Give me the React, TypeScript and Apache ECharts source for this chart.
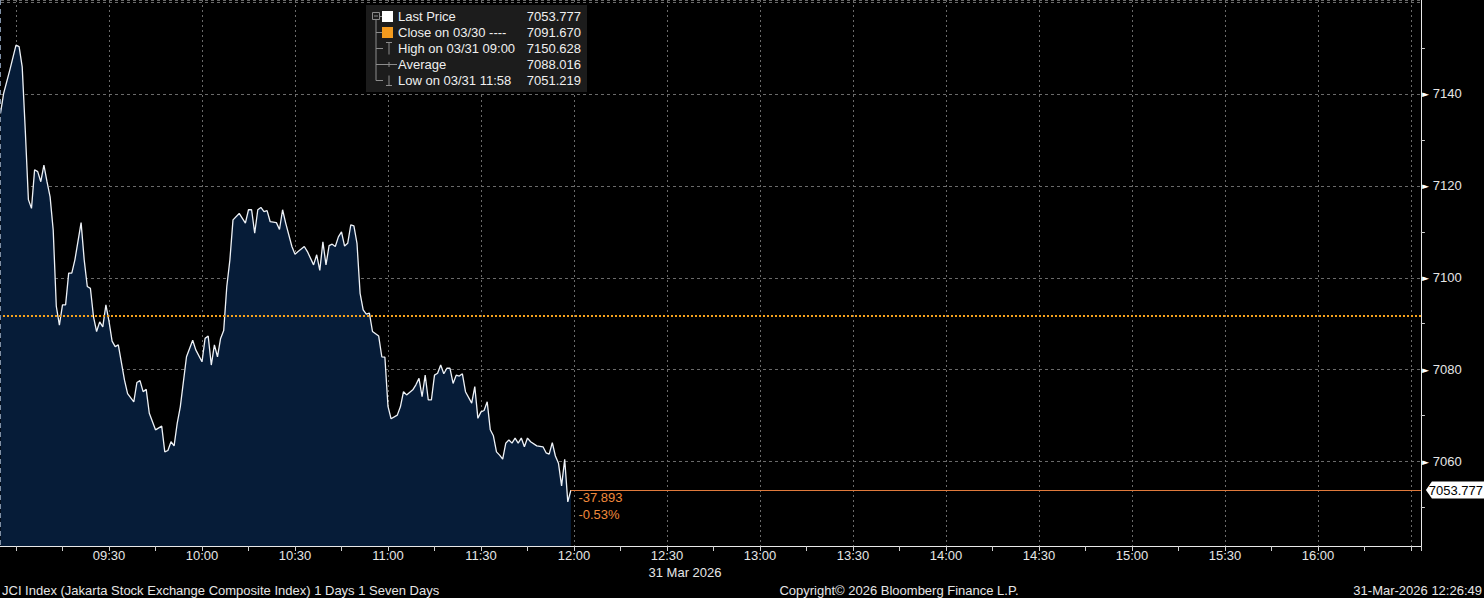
import React, { useEffect, useRef } from 'react';
import * as echarts from 'echarts';

// minutes after 09:00 (Jakarta) for each price print
const times = [
  -5, -4, -2, 0, 1, 2, 3, 4, 5, 6,
  7, 8, 9, 10, 11, 12, 13, 14, 15, 16,
  17, 18, 19, 21, 22, 23, 24, 25, 26, 27,
  28, 29, 30, 31, 32, 33, 35, 36, 38, 39,
  40, 41, 42, 43, 45, 47, 48, 49, 50, 51,
  52, 53, 55, 57, 58, 60, 61, 62, 63, 64,
  65, 66, 67, 68, 69, 70, 72, 74, 75, 76,
  77, 78, 79, 80, 81, 82, 84, 85, 86, 87,
  89, 90, 91, 93, 94, 96, 97, 98, 99, 100,
  101, 102, 103, 104, 105, 106, 107, 108, 109, 110,
  111, 112, 113, 114, 115, 117, 118, 119, 120, 121,
  123, 124, 125, 126, 128, 129, 130, 131, 132, 133,
  134, 135, 136, 137, 138, 139, 140, 141, 142, 143,
  144, 145, 147, 148, 149, 150, 151, 152, 153, 154,
  155, 156, 157, 158, 159, 160, 161, 162, 163, 164,
  165, 166, 168, 170, 171, 172, 173, 174, 175, 176,
  177, 178, 179,
];

const prices = [
  7135.8, 7140.1, 7145.2, 7150.628, 7150.3, 7145.9, 7132.0, 7117.0, 7115.1, 7123.5,
  7123.1, 7120.9, 7124.5, 7120.9, 7117.6, 7110.4, 7093.8, 7089.7, 7094.1, 7094.1,
  7101.0, 7101.0, 7103.9, 7112.0, 7103.9, 7098.1, 7097.7, 7091.5, 7088.3, 7090.4,
  7089.3, 7094.1, 7090.5, 7086.2, 7085.0, 7085.4, 7077.7, 7074.8, 7073.0, 7077.2,
  7077.6, 7075.2, 7075.7, 7070.5, 7066.9, 7067.7, 7062.1, 7062.4, 7064.3, 7063.4,
  7068.3, 7071.9, 7082.8, 7086.4, 7084.3, 7081.7, 7086.8, 7087.3, 7081.0, 7085.4,
  7082.8, 7086.8, 7088.5, 7098.1, 7103.9, 7112.6, 7114.0, 7111.9, 7114.8, 7114.8,
  7109.7, 7114.8, 7115.3, 7114.4, 7114.6, 7112.2, 7112.0, 7110.5, 7114.8, 7111.9,
  7106.8, 7105.1, 7105.7, 7106.8, 7105.7, 7102.8, 7105.0, 7101.6, 7107.8, 7102.8,
  7107.0, 7107.3, 7106.8, 7108.9, 7110.0, 7106.9, 7107.5, 7111.5, 7111.3, 7107.5,
  7096.6, 7093.0, 7092.1, 7092.3, 7088.3, 7087.3, 7082.8, 7082.7, 7072.0, 7069.3,
  7070.1, 7071.9, 7075.2, 7074.5, 7075.6, 7076.7, 7078.1, 7074.1, 7078.8, 7073.4,
  7073.4, 7078.8, 7079.2, 7081.0, 7079.1, 7080.3, 7080.3, 7077.0, 7078.8, 7078.6,
  7079.1, 7075.2, 7072.7, 7076.3, 7069.4, 7070.8, 7071.1, 7073.0, 7066.9, 7065.6,
  7062.1, 7061.4, 7060.5, 7064.0, 7064.7, 7064.0, 7065.1, 7064.0, 7065.1, 7063.2,
  7065.1, 7064.3, 7063.4, 7063.2, 7061.9, 7061.6, 7064.1, 7061.2, 7059.6, 7054.7,
  7060.5, 7051.219, 7053.777,
];

const prevClose = 7091.67;
const lastPrice = 7053.777;
const highPrice = 7150.628;
const avgPrice = 7088.016;
const lowPrice = 7051.219;

const legendLabels = ['Last Price', 'Close on 03/30 ----', 'High on 03/31 09:00', 'Average', 'Low on 03/31 11:58'];
const legendValues = [lastPrice, prevClose, highPrice, avgPrice, lowPrice];

const footerLeft = 'JCI Index (Jakarta Stock Exchange Composite Index) 1 Days 1 Seven Days';
const footerMid = 'Copyright\u00A9 2026 Bloomberg Finance L.P.';
const footerRight = '31-Mar-2026 12:26:49';
const dateLabel = '31 Mar 2026';

const X_MIN = -30;
const X_MAX = 453.2;
const LAST_LABEL_T = 420;
const Y_MIN = 7041.61;
const Y_MAX = 7160.46;
const Y_TOP_LABEL = 7140;

const FONT = '"Liberation Sans", Arial, sans-serif';

const hhmm = (m: number) => {
  const total = 9 * 60 + m;
  const h = Math.floor(total / 60);
  const mm = Math.round(total - h * 60);
  return `${String(h).padStart(2, '0')}:${String(mm).padStart(2, '0')}`;
};

export default function App() {
  const ref = useRef<HTMLDivElement>(null);

  useEffect(() => {
    document.body.style.margin = '0';
    document.body.style.background = '#000';
    if (!ref.current) return;
    const chart = echarts.init(ref.current, undefined, { renderer: 'svg' });

    const lastT = times[times.length - 1];
    const change = lastPrice - prevClose;
    const pct = (change / prevClose) * 100;
    const changeText = `${change.toFixed(3)}\n${pct.toFixed(2)}%`;

    const rowsY = [16.5, 32.5, 48.5, 64.5, 80.5];
    const gray = '#8c8c8c';
    const graphics: any[] = [
      { type: 'line', z: 50, shape: { x1: 0.5, y1: 0, x2: 0.5, y2: 546 }, style: { stroke: '#7f90a6', lineWidth: 1, lineDash: [5, 4] } },
      { type: 'rect', z: 50, shape: { x: 366, y: 5, width: 221, height: 87 }, style: { fill: '#1c1c1c' } },
      { type: 'rect', z: 51, shape: { x: 372.5, y: 12.5, width: 7, height: 7 }, style: { fill: 'none', stroke: gray, lineWidth: 1 } },
      { type: 'line', z: 51, shape: { x1: 374, y1: 16, x2: 378, y2: 16 }, style: { stroke: gray, lineWidth: 1 } },
      { type: 'line', z: 51, shape: { x1: 379.5, y1: 16.5, x2: 382, y2: 16.5 }, style: { stroke: gray, lineWidth: 1 } },
      { type: 'line', z: 51, shape: { x1: 376, y1: 19.5, x2: 376, y2: 80.5 }, style: { stroke: gray, lineWidth: 1 } },
      { type: 'line', z: 51, shape: { x1: 376, y1: 32.5, x2: 382, y2: 32.5 }, style: { stroke: gray, lineWidth: 1 } },
      { type: 'line', z: 51, shape: { x1: 376, y1: 48.5, x2: 383, y2: 48.5 }, style: { stroke: gray, lineWidth: 1 } },
      { type: 'line', z: 51, shape: { x1: 389, y1: 42.5, x2: 389, y2: 54.5 }, style: { stroke: gray, lineWidth: 1 } },
      { type: 'line', z: 51, shape: { x1: 386, y1: 42.5, x2: 392, y2: 42.5 }, style: { stroke: gray, lineWidth: 1 } },
      { type: 'line', z: 51, shape: { x1: 376, y1: 64.5, x2: 397, y2: 64.5 }, style: { stroke: gray, lineWidth: 1 } },
      { type: 'line', z: 51, shape: { x1: 389, y1: 62, x2: 389, y2: 67 }, style: { stroke: gray, lineWidth: 1 } },
      { type: 'line', z: 51, shape: { x1: 376, y1: 80.5, x2: 383, y2: 80.5 }, style: { stroke: gray, lineWidth: 1 } },
      { type: 'line', z: 51, shape: { x1: 389, y1: 75.5, x2: 389, y2: 85.5 }, style: { stroke: gray, lineWidth: 1 } },
      { type: 'line', z: 51, shape: { x1: 386, y1: 85.5, x2: 392, y2: 85.5 }, style: { stroke: gray, lineWidth: 1 } },
      { type: 'rect', z: 51, shape: { x: 382, y: 11, width: 11, height: 11 }, style: { fill: '#ffffff' } },
      { type: 'rect', z: 51, shape: { x: 382, y: 27, width: 11, height: 11 }, style: { fill: '#f39a1e' } },
    ];
    legendLabels.forEach((lab, i) => {
      graphics.push({
        type: 'text', z: 52,
        style: { text: lab, x: 398, y: rowsY[i], fill: '#efefef', font: `13px ${FONT}`, textAlign: 'left', textVerticalAlign: 'middle' },
      });
      graphics.push({
        type: 'text', z: 52,
        style: { text: legendValues[i].toFixed(3), x: 581, y: rowsY[i], fill: '#efefef', font: `13px ${FONT}`, textAlign: 'right', textVerticalAlign: 'middle' },
      });
    });
    graphics.push(
      { type: 'text', z: 52, style: { text: dateLabel, x: 685, y: 572, fill: '#e6e6e6', font: `13px ${FONT}`, textAlign: 'center', textVerticalAlign: 'middle' } },
      { type: 'text', z: 52, style: { text: footerLeft, x: 2, y: 590, fill: '#e6e6e6', font: `13px ${FONT}`, textAlign: 'left', textVerticalAlign: 'middle' } },
      { type: 'text', z: 52, style: { text: footerMid, x: 899, y: 590, fill: '#e6e6e6', font: `13px ${FONT}`, textAlign: 'center', textVerticalAlign: 'middle' } },
      { type: 'text', z: 52, style: { text: footerRight, x: 1482, y: 590, fill: '#e6e6e6', font: `13px ${FONT}`, textAlign: 'right', textVerticalAlign: 'middle' } },
    );

    const isMajorY = (v: number) => Math.abs(v - Math.round(v / 20) * 20) < 1e-6;

    const option: any = {
      animation: false,
      backgroundColor: '#000',
      textStyle: { fontFamily: FONT },
      grid: { left: -77, right: 63.1, top: 0, bottom: 52, containLabel: false, outerBoundsMode: 'none' },
      xAxis: {
        type: 'value',
        min: X_MIN,
        max: X_MAX,
        interval: 30,
        axisLine: { show: true, onZero: false, lineStyle: { color: '#e8e8e8', width: 1 } },
        axisTick: { show: true, length: 5, lineStyle: { color: '#cfcfcf' } },
        minorTick: { show: true, splitNumber: 2, length: 5, lineStyle: { color: '#cfcfcf' } },
        axisLabel: {
          color: '#e6e6e6',
          fontSize: 13,
          fontFamily: FONT,
          margin: 3,
          formatter: (v: number) => (v > 0 && v <= LAST_LABEL_T && Math.abs(v % 30) < 1e-6 ? hhmm(v) : ''),
        },
        splitLine: { show: true, lineStyle: { color: '#6a6a6a', type: [2, 3], width: 1 } },
        minorSplitLine: { show: false },
      },
      yAxis: {
        type: 'value',
        position: 'right',
        min: Y_MIN,
        max: Y_MAX,
        splitNumber: 6,
        axisLine: { show: true, onZero: false, lineStyle: { color: '#e8e8e8', width: 1 } },
        axisTick: { show: false },
        minorTick: { show: true, splitNumber: 2, length: 4, lineStyle: { color: '#cfcfcf' } },
        axisLabel: {
          margin: 1,
          formatter: (v: number) => {
            if (!isMajorY(v) || v > Y_TOP_LABEL) return '';
            return `{t|\u25BA}{v|${Math.round(v)}}`;
          },
          rich: {
            t: { color: '#ffffff', fontSize: 9, fontFamily: '"DejaVu Sans", sans-serif' },
            v: { color: '#e6e6e6', fontSize: 13, fontFamily: FONT, padding: [0, 0, 0, 4] },
          },
        },
        splitLine: { show: true, lineStyle: { color: '#6a6a6a', type: [3, 3], width: 1 } },
      },
      series: [
        {
          type: 'line',
          data: times.map((t, i) => [t, prices[i]]),
          symbol: 'none',
          showSymbol: false,
          lineStyle: { color: '#eef2f7', width: 1.3 },
          areaStyle: { color: '#061c38', opacity: 1, origin: 'start' },
          z: 3,
          markLine: {
            silent: true,
            symbol: ['none', 'none'],
            label: { show: false },
            data: [
              { yAxis: prevClose, lineStyle: { color: '#f5a21b', type: [2, 2], width: 2 } },
              [
                { coord: [lastT, lastPrice], lineStyle: { color: '#e07a3c', width: 1, type: 'solid' } },
                { coord: [X_MAX, lastPrice] },
              ],
            ],
          },
          markPoint: {
            silent: true,
            data: [
              {
                coord: [X_MAX, lastPrice],
                symbol: 'path://M0,8 L6,0 L62,0 L62,16 L6,16 Z',
                symbolSize: [62, 17],
                symbolOffset: [36, 0],
                itemStyle: { color: '#ffffff' },
                label: { show: true, position: 'inside', color: '#000', fontSize: 13, fontFamily: FONT, formatter: lastPrice.toFixed(3), offset: [-1, 0] },
              },
              {
                coord: [lastT, lastPrice],
                symbol: 'rect',
                symbolSize: 1,
                itemStyle: { color: 'rgba(0,0,0,0)' },
                label: {
                  show: true,
                  position: [8, -1],
                  align: 'left',
                  verticalAlign: 'top',
                  color: '#f08a3c',
                  fontSize: 13,
                  lineHeight: 17,
                  fontFamily: FONT,
                  formatter: changeText,
                },
              },
            ],
          },
        },
      ],
      graphic: { elements: graphics },
    };

    chart.setOption(option);
    return () => chart.dispose();
  }, []);

  return <div ref={ref} style={{ width: 1484, height: 598, background: '#000' }} />;
}
